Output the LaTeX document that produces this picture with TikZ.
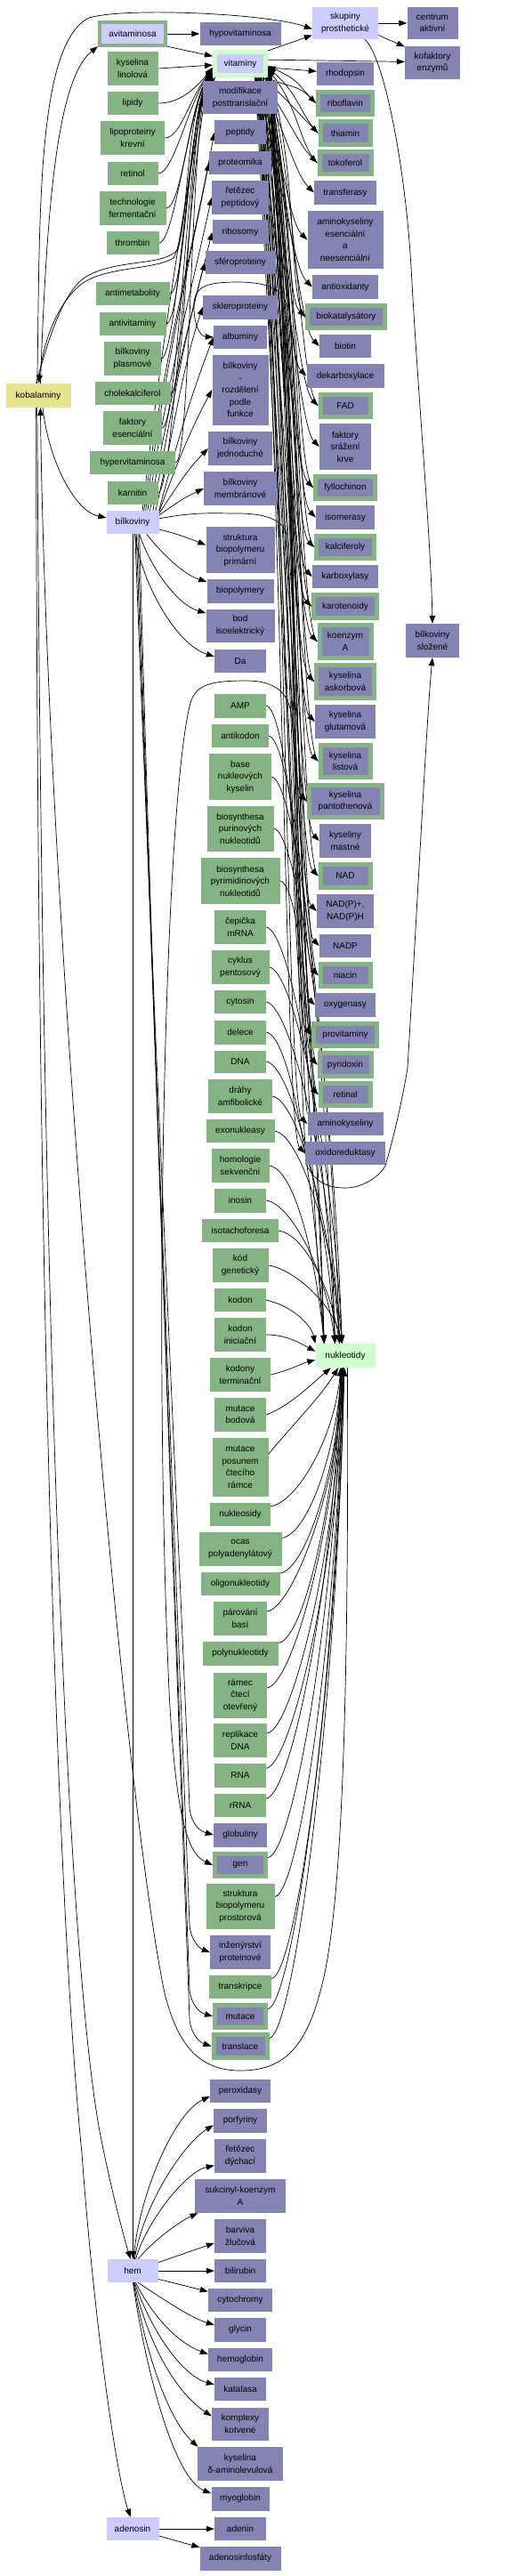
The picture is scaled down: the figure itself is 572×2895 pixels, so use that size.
\documentclass[tikz,border=0pt]{standalone}
\usepackage{fontspec}
\newfontfamily\nf{Liberation Sans}
\usetikzlibrary{arrows.meta}
\definecolor{cpur}{HTML}{8484B4}
\definecolor{cgrn}{HTML}{84B484}
\definecolor{clav}{HTML}{CCCCFF}
\definecolor{clgr}{HTML}{CCFFCC}
\definecolor{cyel}{HTML}{E6E48C}
\pgfdeclarelayer{bg}
\pgfsetlayers{bg,main}
\tikzset{
 box/.style={rectangle, inner sep=0pt, align=center, text=black, font=\nf\fontsize{10}{13.5}\selectfont},
 nPur/.style={box, fill=cpur},
 nGrn/.style={box, fill=cgrn},
 nLav/.style={box, fill=clav},
 nLgr/.style={box, fill=clgr},
 nYel/.style={box, fill=cyel},
 nPg/.style={box, fill=cpur, draw=cgrn, line width=5pt, outer sep=2.5pt},
 edge/.style={-{Triangle[length=9pt,width=6.5pt]}, line width=0.7pt, black},
}
\newcommand{\mkn}[7]{\node[#1, minimum width=#5pt, minimum height=#6pt] (#2) at (#3,-#4) {#7};}
\newcommand{\mkpg}[6]{\node[nPg, minimum width=#4pt, minimum height=#5pt] (#1) at (#2,-#3) {#6};}
\newcommand{\eVR}[3]{\draw[edge] (vit.#3) .. controls +(30,{-0.45*(#2-87)}) and +(-22,22) .. (#1.west);}
\newcommand{\eRV}[3]{\draw[edge] (#1.west) .. controls +(-20,20) and +(36,{-0.45*(#2-80)}) .. (vit.#3);}
\newcommand{\eNA}[3]{\draw[edge] (#1.east) .. controls +(28,-4) and +(-10,{0.5*(1510-#2)}) .. (nuk.#3);}
\newcommand{\eNB}[3]{\draw[edge] (#1.15) .. controls +(28,4) and +(-8,{-0.5*(#2-1537)}) .. (nuk.#3);}
\newcommand{\eLV}[3]{\draw[edge] (#1.east) .. controls +(18,0) and +(-26,-32) .. (vit.#3);}
\newcommand{\eBU}[3]{\draw[edge] (bilk.#3) .. controls +(22,{0.4*(587-#2)}) and +(-24,{-0.3*(587-#2)}) .. (#1.west);}
\newcommand{\eBD}[3]{\draw[edge] (bilk.#3) .. controls (170,-1100) and (205,{-(#2-250)}) .. (213,{-(#2-30)}) .. controls (215,{-(#2-12)}) and (225,{-(#2-4)}) .. (#1.west);}
\begin{document}
\begin{tikzpicture}[x=1pt,y=1pt]
\useasboundingbox (0,0) rectangle (572,-2895);
\begin{pgfonlayer}{bg}
\fill[white] (0,0) rectangle (572,-2895);
\end{pgfonlayer}
% ---------- left column
\node[nLav, draw=cgrn, line width=4pt, outer sep=2pt, minimum width=74pt, minimum height=26pt] (avit) at (149,-38) {avitaminosa};
\mkn{nGrn}{kl}{149}{77}{57}{38}{kyselina\\linolová}
\mkn{nGrn}{lip}{149}{116}{57}{26}{lipidy}
\mkn{nGrn}{lpk}{149}{155}{72}{38}{lipoproteiny\\krevní}
\mkn{nGrn}{ret}{149}{195}{57}{26}{retinol}
\mkn{nGrn}{tf}{149}{234}{75}{38}{technologie\\fermentační}
\mkn{nGrn}{thr}{149}{273}{59}{26}{thrombin}
\mkn{nGrn}{amet}{149}{330}{83}{26}{antimetabolity}
\mkn{nGrn}{avitb}{149}{364}{75}{26}{antivitaminy}
\mkn{nGrn}{bpl}{149}{403}{64}{38}{bílkoviny\\plasmové}
\mkn{nGrn}{chk}{149}{442}{85}{26}{cholekalciferol}
\mkn{nGrn}{fes}{149}{481}{66}{38}{faktory\\esenciální}
\mkn{nGrn}{hyp}{149}{520}{96}{26}{hypervitaminosa}
\mkn{nGrn}{karn}{149}{554}{57}{26}{karnitin}
\mkn{nLav}{bilk}{149}{587}{59}{26}{bílkoviny}
\mkn{nLav}{hem}{149}{2552}{57}{26}{hem}
\mkn{nLav}{ados}{149}{2842}{59}{26}{adenosin}
\mkn{nYel}{kob}{43}{444.5}{73}{27}{kobalaminy}
% ---------- middle column
\mkn{nPur}{hypo}{270}{38}{91}{26}{hypovitaminosa}
\node[nLav, draw=clgr, line width=5pt, outer sep=2.5pt, minimum width=57pt, minimum height=26pt] (vit) at (270,-71.5) {vitaminy};
\mkn{nPur}{mod}{270}{110}{84}{37}{modifikace\\posttranslační}
\mkn{nPur}{pep}{270}{149}{58}{27}{peptidy}
\mkn{nPur}{prot}{270}{183}{70}{26}{proteomika}
\mkn{nPur}{retp}{270}{222}{64}{38}{řetězec\\peptidový}
\mkn{nPur}{ribs}{270}{261}{63}{27}{ribosomy}
\mkn{nPur}{sfer}{270}{295}{79}{26}{sféroproteiny}
\mkn{nPur}{skl}{270}{345}{84}{27}{skleroproteiny}
\mkn{nPur}{alb}{270}{379}{60}{26}{albuminy}
\mkn{nPur}{brf}{270}{438}{63}{79}{bílkoviny\\-\\rozdělení\\podle\\funkce}
\mkn{nPur}{bj}{270}{504}{72}{38}{bílkoviny\\jednoduché}
\mkn{nPur}{bm}{270}{549}{82}{38}{bílkoviny\\membránové}
\mkn{nPur}{sbp}{270}{618}{77}{52}{struktura\\biopolymeru\\primární}
\mkn{nPur}{bpol}{270}{664}{75}{27}{biopolymery}
\mkn{nPur}{bod}{270}{703}{77}{37}{bod\\isoelektrický}
\mkn{nPur}{da}{270}{743}{58}{26}{Da}
\mkn{nGrn}{amp}{270}{793}{58}{27}{AMP}
\mkn{nGrn}{antk}{270}{827}{64}{26}{antikodon}
\mkn{nGrn}{base}{270}{873}{70}{52}{base\\nukleových\\kyselin}
\mkn{nGrn}{bpur}{270}{931}{75}{51}{biosynthesa\\purinových\\nukleotidů}
\mkn{nGrn}{bpyr}{270}{990}{89}{52}{biosynthesa\\pyrimidinových\\nukleotidů}
\mkn{nGrn}{cep}{270}{1042}{58}{38}{čepička\\mRNA}
\mkn{nGrn}{cyk}{270}{1087}{65}{38}{cyklus\\pentosový}
\mkn{nGrn}{cyt}{270}{1126}{58}{26}{cytosin}
\mkn{nGrn}{del}{270}{1160}{58}{27}{delece}
\mkn{nGrn}{dna}{270}{1193}{58}{25}{DNA}
\mkn{nGrn}{dra}{270}{1232}{72}{38}{dráhy\\amfibolické}
\mkn{nGrn}{exo}{270}{1271}{77}{26}{exonukleasy}
\mkn{nGrn}{hom}{270}{1310}{65}{38}{homologie\\sekvenční}
\mkn{nGrn}{ino}{270}{1349}{58}{27}{inosin}
\mkn{nGrn}{ita}{270}{1383}{86}{26}{isotachoforesa}
\mkn{nGrn}{kod}{270}{1422}{63}{38}{kód\\genetický}
\mkn{nGrn}{kdn}{270}{1461}{58}{26}{kodon}
\mkn{nGrn}{kdi}{270}{1500}{58}{38}{kodon\\iniciační}
\mkn{nGrn}{kdt}{270}{1545}{68}{38}{kodony\\terminační}
\mkn{nGrn}{mb}{270}{1590}{58}{38}{mutace\\bodová}
\mkn{nGrn}{mp}{270}{1649}{63}{66}{mutace\\posunem\\čtecího\\rámce}
\mkn{nGrn}{nsd}{270}{1702}{68}{26}{nukleosidy}
\mkn{nGrn}{ocas}{270}{1741}{93}{38}{ocas\\polyadenylátový}
\mkn{nGrn}{olig}{270}{1780}{89}{26}{oligonukleotidy}
\mkn{nGrn}{par}{270}{1819}{60}{38}{párování\\basí}
\mkn{nGrn}{poly}{270}{1858}{85}{27}{polynukleotidy}
\mkn{nGrn}{ram}{270}{1905}{60}{51}{rámec\\čtecí\\otevřený}
\mkn{nGrn}{rep}{270}{1956}{60}{38}{replikace\\DNA}
\mkn{nGrn}{rna}{270}{1995}{58}{27}{RNA}
\mkn{nGrn}{rrna}{270}{2029}{58}{26}{rRNA}
\mkn{nPur}{glob}{270}{2062}{60}{27}{globuliny}
\mkpg{gen}{270}{2096}{57}{25}{gen}
\mkn{nGrn}{sbpp}{270}{2142}{77}{51}{struktura\\biopolymeru\\prostorová}
\mkn{nPur}{inz}{270}{2194}{68}{38}{inženýrství\\proteinové}
\mkn{nGrn}{trk}{270}{2233}{70}{26}{transkripce}
\mkpg{mut}{270}{2266}{57}{25}{mutace}
\mkpg{trl}{270}{2299.5}{60}{26}{translace}
\mkn{nPur}{perox}{270}{2350}{68}{26}{peroxidasy}
\mkn{nPur}{porf}{270}{2383}{60}{27}{porfyriny}
\mkn{nPur}{retd}{270}{2423}{58}{38}{řetězec\\dýchací}
\mkn{nPur}{suk}{270}{2468}{102}{38}{sukcinyl-koenzym\\A}
\mkn{nPur}{barv}{270}{2513}{58}{38}{barviva\\žlučová}
\mkn{nPur}{bili}{270}{2552}{58}{26}{bilirubin}
\mkn{nPur}{cytc}{270}{2585}{72}{26}{cytochromy}
\mkn{nPur}{glyc}{270}{2618}{58}{27}{glycin}
\mkn{nPur}{hgb}{270}{2652}{72}{26}{hemoglobin}
\mkn{nPur}{kat}{270}{2685}{58}{26}{katalasa}
\mkn{nPur}{kmp}{270}{2724}{64}{37}{komplexy\\kotvené}
\mkn{nPur}{ala}{270}{2769}{96}{38}{kyselina\\δ-aminolevulová}
\mkn{nPur}{myo}{270}{2808}{65}{27}{myoglobin}
\mkn{nPur}{aden}{270}{2842}{58}{26}{adenin}
\mkn{nPur}{adf}{270}{2875}{91}{27}{adenosinfosfáty}
% ---------- right column
\mkn{nLav}{skup}{388}{26}{74}{36}{skupiny\\prosthetické}
\mkn{nPur}{rhod}{388}{83}{64}{26}{rhodopsin}
\mkpg{ribf}{388}{116}{61}{25}{riboflavin}
\mkpg{thia}{388}{149.5}{56}{26}{thiamin}
\mkpg{toko}{388}{183}{58}{25}{tokoferol}
\mkn{nPur}{trf}{388}{216.5}{70}{27}{transferasy}
\mkn{nPur}{ake}{388}{269.5}{85}{65}{aminokyseliny\\esenciální\\a\\neesenciální}
\mkn{nPur}{aox}{388}{322.5}{74}{27}{antioxidanty}
\mkpg{bkat}{389}{356}{87}{25}{biokatalysátory}
\mkn{nPur}{biot}{388}{389}{58}{26}{biotin}
\mkn{nPur}{dek}{388}{422.5}{87}{27}{dekarboxylace}
\mkpg{fad}{388}{456}{56}{25}{FAD}
\mkn{nPur}{fsk}{388}{502}{58}{52}{faktory\\srážení\\krve}
\mkpg{fyl}{388}{548}{67}{25}{fyllochinon}
\mkn{nPur}{iso}{388}{581.5}{66}{27}{isomerasy}
\mkpg{kalc}{388}{615}{65}{25}{kalciferoly}
\mkn{nPur}{karb}{388}{648}{74}{26}{karboxylasy}
\mkpg{karo}{388}{681.5}{71}{26}{karotenoidy}
\mkpg{koa}{388}{721}{58}{37}{koenzym\\A}
\mkpg{kask}{388}{766}{65}{37}{kyselina\\askorbová}
\mkn{nPur}{kglu}{388}{811}{68}{38}{kyselina\\glutamová}
\mkpg{klis}{388}{855.5}{56}{36}{kyselina\\listová}
\mkpg{kpan}{388}{900.5}{82}{36}{kyselina\\pantothenová}
\mkn{nPur}{kmas}{388}{945}{58}{38}{kyseliny\\mastné}
\mkpg{nad}{388}{984.5}{56}{26}{NAD}
\mkn{nPur}{nadpp}{388}{1024}{64}{38}{NAD(P)+,\\NAD(P)H}
\mkn{nPur}{nadp}{388}{1063}{58}{26}{NADP}
\mkpg{nia}{388}{1096}{56}{25}{niacin}
\mkn{nPur}{oxy}{388}{1129.5}{68}{27}{oxygenasy}
\mkpg{provit}{388}{1163}{71}{25}{provitaminy}
\mkpg{pyr}{388}{1196.5}{58}{26}{pyridoxin}
\mkpg{retl}{388}{1230}{56}{25}{retinal}
\mkn{nPur}{amk}{388}{1263}{85}{26}{aminokyseliny}
\mkn{nPur}{oxr}{388}{1296}{90}{26}{oxidoreduktasy}
\mkn{nLgr}{nuk}{388}{1523.5}{67}{27}{nukleotidy}
% ---------- far right
\mkn{nPur}{cen}{486}{26}{57}{36}{centrum\\aktivní}
\mkn{nPur}{kof}{486}{70.5}{62}{37}{kofaktory\\enzymů}
\mkn{nPur}{bsl}{486}{720}{60}{38}{bílkoviny\\složené}

\begin{pgfonlayer}{bg}
% kobalaminy
\draw[edge] (kob.95) .. controls (45,-250) and (40,-50) .. (100,-20) .. controls (140,-8) and (300,-15) .. (skup.190);
\draw[edge] (kob.80) .. controls (52,-250) and (62,-90) .. (avit.200);
\draw[edge] (vit.205) .. controls (214,-110) and (212,-260) .. (195,-290) .. controls (170,-305) and (110,-298) .. (85,-325) .. controls (60,-350) and (48,-390) .. (kob.88);
\draw[edge] (kob.100) .. controls (55,-380) and (70,-330) .. (95,-312) .. controls (130,-290) and (185,-300) .. (200,-280) .. controls (212,-240) and (210,-120) .. (vit.200);
\draw[edge] (kob.-70) .. controls (55,-520) and (85,-575) .. (bilk.170);
\draw[edge] (kob.-95) .. controls (48,-1600) and (80,-2250) .. (115,-2410) .. controls (125,-2460) and (138,-2510) .. (hem.100);
\draw[edge] (kob.-100) .. controls (42,-1600) and (70,-2200) .. (92,-2420) .. controls (105,-2600) and (130,-2780) .. (ados.100);
\draw[edge] (nuk.-80) .. controls (392,-1900) and (385,-2140) .. (362,-2230) .. controls (345,-2300) and (320,-2327) .. (270,-2327) .. controls (225,-2327) and (200,-2300) .. (185,-2240) .. controls (135,-2000) and (52,-1000) .. (kob.-80);
% avitaminosa, vitaminy top
\draw[edge] (avit.east) -- (hypo.west);
\draw[edge] (avit.-20) -- (vit.165);
\draw[edge] (vit.25) -- (skup.-160);
\draw[edge] (vit.8) -- (kof.178);
\draw[edge] (vit.-8) -- (rhod.175);
\draw[edge] (skup.east) -- (cen.west);
\draw[edge] (skup.-20) -- (kof.150);
\draw[edge] (skup.-40) .. controls (430,-60) and (455,-180) .. (462,-300) .. controls (470,-450) and (484,-600) .. (bsl.north);
% left green -> vitaminy
\draw[edge] (kl.east) -- (vit.183);
\eLV{lip}{116}{188}
\eLV{lpk}{155}{191}
\eLV{ret}{195}{194}
\eLV{tf}{234}{197}
\eLV{thr}{273}{199}
\eLV{amet}{330}{201}
\eLV{avitb}{364}{203}
\eLV{bpl}{403}{204}
\eLV{chk}{442}{205}
\eLV{fes}{481}{206}
\eLV{hyp}{520}{207}
\eLV{karn}{554}{209}
% vitaminy -> right
\eVR{ribf}{116}{-28}
\eVR{thia}{149.5}{-31}
\eVR{toko}{183}{-34}
\eVR{trf}{216.5}{-37}
\eVR{ake}{269.5}{-40}
\eVR{aox}{322.5}{-43}
\eVR{bkat}{356}{-28}
\eVR{biot}{389}{-31}
\eVR{dek}{422.5}{-34}
\eVR{fad}{456}{-37}
\eVR{fsk}{502}{-40}
\eVR{fyl}{548}{-43}
\eVR{iso}{581.5}{-28}
\eVR{kalc}{615}{-31}
\eVR{karb}{648}{-34}
\eVR{karo}{681.5}{-37}
\eVR{koa}{721}{-40}
\eVR{kask}{766}{-43}
\eVR{kglu}{811}{-28}
\eVR{klis}{855.5}{-31}
\eVR{kpan}{900.5}{-34}
\eVR{kmas}{945}{-37}
\eVR{nad}{984.5}{-40}
\eVR{nadpp}{1024}{-43}
\eVR{nadp}{1063}{-28}
\eVR{nia}{1096}{-31}
\eVR{oxy}{1129.5}{-34}
\eVR{provit}{1163}{-37}
\eVR{pyr}{1196.5}{-40}
\eVR{retl}{1230}{-43}
\eVR{amk}{1263}{-35}
\eVR{oxr}{1296}{-38}
% right (green bordered) -> vitaminy
\eRV{ribf}{116}{-5}
\eRV{thia}{149.5}{-8}
\eRV{toko}{183}{-11}
\eRV{bkat}{356}{-14}
\eRV{fad}{456}{-17}
\eRV{fyl}{548}{-20}
\eRV{kalc}{615}{-5}
\eRV{karo}{681.5}{-8}
\eRV{koa}{721}{-11}
\eRV{kask}{766}{-14}
\eRV{klis}{855.5}{-17}
\eRV{kpan}{900.5}{-20}
\eRV{nad}{984.5}{-5}
\eRV{nia}{1096}{-8}
\eRV{provit}{1163}{-11}
\eRV{pyr}{1196.5}{-14}
\eRV{retl}{1230}{-17}
% bilkoviny
\eBU{mod}{110}{50}
\eBU{pep}{149}{46}
\eBU{prot}{183}{42}
\eBU{retp}{222}{38}
\eBU{ribs}{261}{34}
\eBU{sfer}{295}{30}
\eBU{skl}{345}{27}
\eBU{alb}{379}{24}
\eBU{brf}{438}{21}
\eBU{bj}{504}{18}
\eBU{bm}{549}{15}
\draw[edge] (bilk.-15) .. controls (200,-600) and (215,-606) .. (sbp.172);
\draw[edge] (bilk.-40) .. controls (180,-620) and (205,-645) .. (bpol.165);
\draw[edge] (bilk.-60) .. controls (170,-640) and (200,-680) .. (bod.160);
\draw[edge] (bilk.-80) .. controls (160,-660) and (200,-725) .. (da.170);
\draw[edge] (bilk.-88) -- (hem.88);
\eBD{glob}{2062}{-78}
\eBD{inz}{2194}{-72}
\eBD{mut}{2266}{-66}
\eBD{trl}{2299.5}{-60}
\draw[edge] (bilk.8) .. controls (220,-575) and (240,-577) .. (267,-577) .. controls (300,-577) and (318,-585) .. (322,-600) .. controls (332,-700) and (333,-1200) .. (345,-1310) .. controls (355,-1330) and (370,-1335) .. (388,-1335) .. controls (410,-1335) and (428,-1320) .. (433,-1310) .. controls (445,-1270) and (455,-1220) .. (458,-1200) .. controls (470,-1000) and (480,-800) .. (bsl.south);
\draw[edge] (amk.165) .. controls (335,-1200) and (326,-420) .. (322,-345) .. controls (320,-325) and (300,-317) .. (267,-317) .. controls (232,-317) and (220,-322) .. (218,-340) .. controls (217,-365) and (225,-378) .. (alb.west);
\draw[edge] (nuk.150) .. controls (345,-1300) and (335,-860) .. (327,-800) .. controls (322,-775) and (305,-765) .. (277,-765) .. controls (235,-765) and (220,-770) .. (214,-790) .. controls (185,-900) and (172,-1500) .. (190,-1900) .. controls (198,-2060) and (215,-2085) .. (gen.west);
% -> nukleotidy (from above)
\eNA{amp}{793}{150}
\eNA{antk}{827}{130}
\eNA{base}{873}{115}
\eNA{bpur}{931}{105}
\eNA{bpyr}{990}{150}
\eNA{cep}{1042}{130}
\eNA{cyt}{1126}{115}
\eNA{cyk}{1087}{105}
\eNA{del}{1160}{150}
\eNA{dna}{1193}{130}
\eNA{dra}{1232}{115}
\eNA{exo}{1271}{105}
\eNA{hom}{1310}{150}
\eNA{ino}{1349}{130}
\eNA{ita}{1383}{115}
\eNA{kod}{1422}{105}
\draw[edge] (kdn.east) .. controls (330,-1468) and (350,-1490) .. (nuk.158);
\draw[edge] (kdi.east) .. controls (320,-1500) and (335,-1508) .. (nuk.172);
\draw[edge] (kdt.east) .. controls (325,-1540) and (340,-1532) .. (nuk.-172);
\draw[edge] (mb.east) .. controls (325,-1580) and (345,-1560) .. (nuk.-140);
\draw[edge] (mp.25) .. controls (330,-1600) and (360,-1570) .. (nuk.-120);
% -> nukleotidy (from below)
\eNB{nsd}{1702}{-110}
\eNB{ocas}{1741}{-105}
\eNB{olig}{1780}{-100}
\eNB{par}{1819}{-95}
\eNB{poly}{1858}{-110}
\eNB{ram}{1905}{-105}
\eNB{rep}{1956}{-100}
\eNB{rna}{1995}{-95}
\eNB{rrna}{2029}{-110}
\eNB{gen}{2096}{-105}
\eNB{sbpp}{2142}{-100}
\eNB{trk}{2233}{-95}
\eNB{mut}{2266}{-100}
\eNB{trl}{2299.5}{-95}
% hem
\draw[edge] (hem.85) .. controls (155,-2470) and (195,-2375) .. (perox.190);
\draw[edge] (hem.80) .. controls (160,-2480) and (205,-2410) .. (porf.190);
\draw[edge] (hem.75) .. controls (165,-2495) and (210,-2440) .. (retd.200);
\draw[edge] (hem.65) .. controls (175,-2515) and (205,-2495) .. (suk.-158);
\draw[edge] (hem.18) -- (barv.-165);
\draw[edge] (hem.east) -- (bili.west);
\draw[edge] (hem.-18) -- (cytc.165);
\draw[edge] (hem.-65) .. controls (185,-2585) and (215,-2605) .. (glyc.170);
\draw[edge] (hem.-75) .. controls (175,-2610) and (205,-2635) .. (hgb.170);
\draw[edge] (hem.-80) .. controls (170,-2620) and (205,-2670) .. (kat.170);
\draw[edge] (hem.-83) .. controls (168,-2640) and (200,-2690) .. (kmp.165);
\draw[edge] (hem.-86) .. controls (165,-2650) and (190,-2720) .. (ala.158);
\draw[edge] (hem.-88) .. controls (163,-2660) and (195,-2785) .. (myo.170);
% adenosin
\draw[edge] (ados.east) -- (aden.west);
\draw[edge] (ados.-15) -- (adf.165);
\end{pgfonlayer}
\end{tikzpicture}
\end{document}
